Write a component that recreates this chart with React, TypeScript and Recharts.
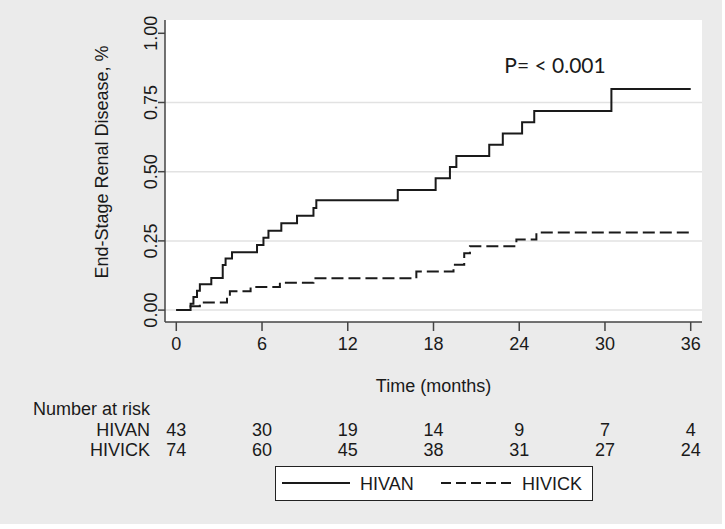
import React from 'react';
import { LineChart, Line, XAxis, YAxis, CartesianGrid, ReferenceLine } from 'recharts';

const months = [0, 6, 12, 18, 24, 30, 36];
const yTicks = [0, 0.25, 0.5, 0.75, 1];
const gridValues = [0, 0.25, 0.5, 0.75];

const seriesNames = ['HIVAN', 'HIVICK'];

const hivanTimes = [0, 1.0, 1.2, 1.45, 1.65, 2.45, 3.25, 3.45, 3.9, 5.65, 6.1, 6.45, 7.35, 8.45, 9.6, 9.8, 15.5, 18.15, 19.15, 19.6, 21.9, 22.85, 24.2, 25.05, 30.45, 36];
const hivanValues = [0, 0.023, 0.047, 0.07, 0.093, 0.116, 0.163, 0.186, 0.209, 0.235, 0.261, 0.287, 0.314, 0.341, 0.369, 0.397, 0.434, 0.476, 0.517, 0.557, 0.597, 0.638, 0.679, 0.719, 0.799, 0.799];

const hivickTimes = [0, 1.0, 1.65, 3.55, 3.75, 5.2, 7.25, 9.6, 16.8, 19.4, 20.15, 20.55, 23.8, 25.2, 36];
const hivickValues = [0, 0.014, 0.027, 0.041, 0.068, 0.083, 0.099, 0.115, 0.139, 0.164, 0.205, 0.231, 0.255, 0.28, 0.28];

const hivanAtRisk = [43, 30, 19, 14, 9, 7, 4];
const hivickAtRisk = [74, 60, 45, 38, 31, 27, 24];

const hivanData = hivanTimes.map((t, i) => ({ t, v: hivanValues[i] }));
const hivickData = hivickTimes.map((t, i) => ({ t, v: hivickValues[i] }));

const FONT = '"Liberation Sans", Arial, Helvetica, sans-serif';
const INK = '#1a1a1a';
const AXIS = '#444';

const XTick = (props: any) => {
  const { x, y, payload } = props;
  const idx = months.indexOf(payload.value);
  return (
    <g fontFamily={FONT} fontSize={18} fill={INK} textAnchor="middle">
      <text x={x} y={y + 18.5}>{payload.value}</text>
      <text x={x} y={y + 104.5}>{hivanAtRisk[idx]}</text>
      <text x={x} y={y + 124.5}>{hivickAtRisk[idx]}</text>
    </g>
  );
};

const YTick = (props: any) => {
  const { y, payload } = props;
  return (
    <text
      x={157}
      y={y}
      transform={`rotate(-90, 157, ${y})`}
      textAnchor="middle"
      fontFamily={FONT}
      fontSize={18}
      fill={INK}
    >
      {payload.value.toFixed(2)}
    </text>
  );
};

export default function App() {
  return (
    <div style={{ position: 'absolute', left: 0, top: 0, width: 725, height: 529, background: '#fff' }}>
      <div style={{ position: 'absolute', left: 0, top: 0, width: 722, height: 524, background: '#ebebeb' }} />
      <div style={{ position: 'absolute', left: 0, top: 0 }}>
        <LineChart
          width={725}
          height={529}
          margin={{ top: 20, right: 23, left: 105, bottom: 167 }}
        >
          <CartesianGrid fill="#ffffff" horizontal={false} vertical={false} />
          {gridValues.map((g) => (
            <ReferenceLine key={g} y={g} stroke="#e2e2e2" strokeWidth={1.5} />
          ))}
          <XAxis
            dataKey="t"
            type="number"
            domain={[-0.79, 36.79]}
            allowDataOverflow
            ticks={months}
            interval={0}
            tickSize={9}
            tickMargin={0}
            tick={<XTick />}
            height={40}
            stroke={AXIS}
            strokeWidth={1.5}
          />
          <YAxis
            type="number"
            domain={[-0.043, 1.048]}
            allowDataOverflow
            ticks={yTicks}
            interval={0}
            tickSize={7}
            tickMargin={0}
            tick={<YTick />}
            width={60}
            stroke={AXIS}
            strokeWidth={1.5}
          />
          <Line
            data={hivanData}
            dataKey="v"
            name={seriesNames[0]}
            type="stepAfter"
            stroke={INK}
            strokeWidth={2}
            dot={false}
            isAnimationActive={false}
          />
          <Line
            data={hivickData}
            dataKey="v"
            name={seriesNames[1]}
            type="stepAfter"
            stroke={INK}
            strokeWidth={2}
            strokeDasharray="12 5"
            dot={false}
            isAnimationActive={false}
          />
        </LineChart>
      </div>
      <svg
        width={725}
        height={529}
        style={{ position: 'absolute', left: 0, top: 0, pointerEvents: 'none' }}
        fontFamily={FONT}
        fill={INK}
      >
        <text transform="translate(108, 162) rotate(-90)" textAnchor="middle" fontSize={18}>
          End-Stage Renal Disease, %
        </text>
        <text x={555} y={73} textAnchor="middle" fontSize={21} fontFamily="Lato, 'Open Sans', sans-serif">
          P= &lt; 0.001
        </text>
        <text x={433.5} y={391.5} textAnchor="middle" fontSize={18}>Time (months)</text>
        <text x={150} y={414.5} textAnchor="end" fontSize={18}>Number at risk</text>
        <text x={150} y={435.5} textAnchor="end" fontSize={18}>{seriesNames[0]}</text>
        <text x={150} y={455.5} textAnchor="end" fontSize={18}>{seriesNames[1]}</text>
        <rect x={275.5} y={466.5} width={317} height={34} fill="#fff" stroke="#222" strokeWidth={1} />
        <line x1={282} x2={350} y1={483} y2={483} stroke={INK} strokeWidth={2} />
        <text x={360} y={489.5} fontSize={18}>{seriesNames[0]}</text>
        <line x1={441} x2={511} y1={483} y2={483} stroke={INK} strokeWidth={2} strokeDasharray="10 5" />
        <text x={522} y={489.5} fontSize={18}>{seriesNames[1]}</text>
      </svg>
    </div>
  );
}
